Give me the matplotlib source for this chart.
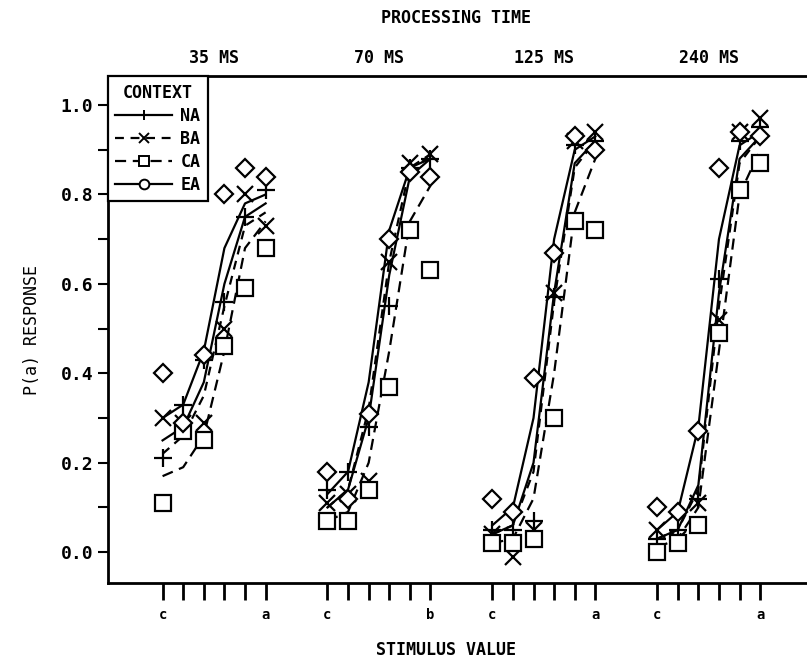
import matplotlib
matplotlib.use("Agg")
import matplotlib.pyplot as plt
from matplotlib.lines import Line2D
from matplotlib.ticker import MultipleLocator

panels = ["35 MS", "70 MS", "125 MS", "240 MS"]
levels = [0, 1, 2, 3, 4, 5]
end_labels = [("c", "a"), ("c", "b"), ("c", "a"), ("c", "a")]
contexts = ["NA", "BA", "CA", "EA"]

# observed P(a) at the six stimulus values, one list per processing time
na_obs = [[0.21, 0.33, 0.43, 0.56, 0.75, 0.81],
          [0.14, 0.18, 0.28, 0.55, 0.86, 0.88],
          [0.05, 0.05, 0.07, 0.57, 0.91, 0.92],
          [0.03, 0.05, 0.12, 0.61, 0.92, 0.95]]
ba_obs = [[0.30, 0.29, 0.29, 0.50, 0.80, 0.73],
          [0.11, 0.13, 0.16, 0.65, 0.87, 0.89],
          [0.04, -0.01, 0.05, 0.58, 0.92, 0.94],
          [0.05, 0.03, 0.11, 0.52, 0.94, 0.97]]
ca_obs = [[0.11, 0.27, 0.25, 0.46, 0.59, 0.68],
          [0.07, 0.07, 0.14, 0.37, 0.72, 0.63],
          [0.02, 0.02, 0.03, 0.30, 0.74, 0.72],
          [0.00, 0.02, 0.06, 0.49, 0.81, 0.87]]
ea_obs = [[0.40, 0.29, 0.44, 0.80, 0.86, 0.84],
          [0.18, 0.12, 0.31, 0.70, 0.85, 0.84],
          [0.12, 0.09, 0.39, 0.67, 0.93, 0.90],
          [0.10, 0.09, 0.27, 0.86, 0.94, 0.93]]

# fitted curves at the same stimulus values
na_fit = [[0.25, 0.28, 0.38, 0.60, 0.75, 0.78],
          [0.10, 0.14, 0.30, 0.62, 0.84, 0.88],
          [0.04, 0.06, 0.20, 0.58, 0.87, 0.92],
          [0.03, 0.05, 0.15, 0.58, 0.88, 0.93]]
ba_fit = [[0.22, 0.26, 0.35, 0.55, 0.73, 0.76],
          [0.10, 0.14, 0.32, 0.65, 0.86, 0.89],
          [0.04, 0.06, 0.18, 0.56, 0.86, 0.92],
          [0.03, 0.05, 0.14, 0.55, 0.87, 0.93]]
ca_fit = [[0.17, 0.19, 0.26, 0.45, 0.68, 0.74],
          [0.07, 0.09, 0.20, 0.45, 0.74, 0.82],
          [0.02, 0.03, 0.12, 0.40, 0.76, 0.88],
          [0.01, 0.03, 0.10, 0.45, 0.80, 0.90]]
ea_fit = [[0.30, 0.33, 0.45, 0.68, 0.78, 0.80],
          [0.13, 0.18, 0.38, 0.72, 0.86, 0.88],
          [0.06, 0.10, 0.30, 0.70, 0.90, 0.93],
          [0.05, 0.09, 0.28, 0.70, 0.91, 0.94]]

plt.rcParams["font.family"] = "DejaVu Sans Mono"
plt.rcParams["font.weight"] = "bold"

fig = plt.figure(figsize=(8.07, 6.65), dpi=100)
ax = fig.add_axes([0.1338, 0.1233, 0.895, 0.7624])

styles = {
    "NA": dict(ls="-", marker="+", ms=13),
    "BA": dict(ls=(0, (4, 3)), marker="x", ms=11),
    "CA": dict(ls=(0, (5, 3)), marker="s", ms=11),
    "EA": dict(ls="-", marker="D", ms=9),
}
obs = {"NA": na_obs, "BA": ba_obs, "CA": ca_obs, "EA": ea_obs}
fits = {"NA": na_fit, "BA": ba_fit, "CA": ca_fit, "EA": ea_fit}

tick_pos = []
tick_lab = []
for k in range(len(panels)):
    xs = [8 * k + i for i in levels]
    for c in contexts:
        st = styles[c]
        ax.plot(xs, fits[c][k], color="black", lw=1.6, ls=st["ls"])
        ax.plot(xs, obs[c][k], ls="none", marker=st["marker"], ms=st["ms"],
                mfc="white", mec="black", mew=1.6, color="black")
    for i, x in enumerate(xs):
        tick_pos.append(x)
        if i == 0:
            tick_lab.append(end_labels[k][0])
        elif i == len(xs) - 1:
            tick_lab.append(end_labels[k][1])
        else:
            tick_lab.append("")
    ax.text(8 * k + 2.5, 1.105, panels[k], ha="center", va="center",
            fontsize=12, clip_on=False)

ax.set_xlim(-2.65, 32.4)
ax.set_ylim(-0.069, 1.065)
ax.set_xticks(tick_pos)
ax.set_xticklabels(tick_lab, fontsize=10)
ax.yaxis.set_major_locator(MultipleLocator(0.2))
ax.yaxis.set_minor_locator(MultipleLocator(0.1))
ax.set_yticklabels([f"{v:.1f}" for v in ax.get_yticks()], fontsize=13)
ax.tick_params(axis="x", direction="out", length=12, width=2, pad=6)
ax.tick_params(axis="y", which="both", direction="out", length=7, width=1.5)
for side in ["left", "top", "bottom"]:
    ax.spines[side].set_linewidth(2)
ax.spines["right"].set_visible(False)

ax.set_ylabel("P(a) RESPONSE", fontsize=12, labelpad=14)
fig.text(0.553, 0.023, "STIMULUS VALUE", ha="center", va="center", fontsize=12)
fig.text(0.565, 0.973, "PROCESSING TIME", ha="center", va="center", fontsize=12)

handles = []
for c in contexts:
    st = styles[c]
    mk = "o" if c == "EA" else st["marker"]
    handles.append(Line2D([], [], color="black", lw=1.6, ls=st["ls"], marker=mk,
                          ms=7, mfc="white", mec="black", mew=1.4))
leg = ax.legend(handles, contexts, title="CONTEXT", loc="upper left",
                bbox_to_anchor=(0, 1), borderaxespad=0, fontsize=12,
                title_fontsize=12, handlelength=3.4, handletextpad=0.5,
                labelspacing=0.3, borderpad=0.45, fancybox=False, framealpha=1)
leg.get_frame().set_edgecolor("black")
leg.get_frame().set_linewidth(1.6)

fig.savefig("out.png", dpi=100)
